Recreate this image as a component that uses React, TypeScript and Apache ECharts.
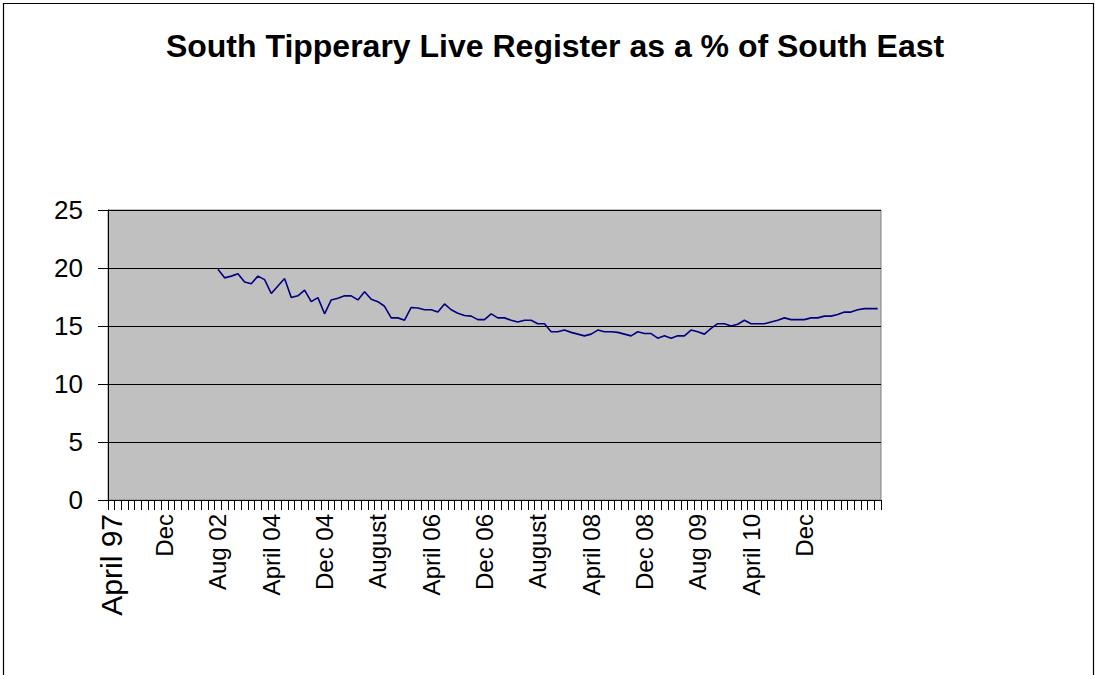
import React, { useEffect, useRef } from "react";
import * as echarts from "echarts";

const tickLabels = [
  "April 97", "Dec", "Aug 02", "April 04", "Dec 04", "August", "April 06",
  "Dec 06", "August", "April 08", "Dec 08", "Aug 09", "April 10", "Dec",
];
const categoryCount = 116;
const labelEvery = 8;
const firstDataIndex = 16;

const liveRegisterPct = [
  19.9, 19.15, 19.3, 19.5, 18.8, 18.65, 19.3, 19.0, 17.8, 18.45,
  19.1, 17.45, 17.6, 18.1, 17.1, 17.45, 16.05, 17.25, 17.4, 17.6,
  17.6, 17.25, 17.95, 17.3, 17.1, 16.7, 15.7, 15.7, 15.5, 16.6,
  16.55, 16.4, 16.4, 16.2, 16.9, 16.4, 16.1, 15.9, 15.85, 15.55,
  15.55, 16.05, 15.7, 15.7, 15.5, 15.35, 15.5, 15.5, 15.2, 15.2,
  14.5, 14.5, 14.65, 14.45, 14.3, 14.15, 14.3, 14.65, 14.5, 14.5,
  14.45, 14.3, 14.15, 14.5, 14.35, 14.35, 13.95, 14.15, 13.95, 14.15,
  14.15, 14.65, 14.5, 14.3, 14.8, 15.2, 15.2, 15.0, 15.15, 15.5,
  15.2, 15.2, 15.2, 15.35, 15.5, 15.7, 15.55, 15.55, 15.55, 15.7,
  15.7, 15.85, 15.85, 16.0, 16.2, 16.2, 16.4, 16.5, 16.5, 16.5,
];

const yTicks = { min: 0, max: 25, interval: 5 };
const titleText = "South Tipperary Live Register as a % of South East";

export default function App() {
  const ref = useRef<HTMLDivElement>(null);
  useEffect(() => {
    if (!ref.current) return;
    const chart = echarts.init(ref.current, null, { renderer: "svg" });
    const categories = Array.from({ length: categoryCount }, (_, i) => String(i));
    const data: (number | null)[] = [];
    for (let i = 0; i < categoryCount; i++) {
      const k = i - firstDataIndex;
      data.push(k >= 0 && k < liveRegisterPct.length ? liveRegisterPct[k] : null);
    }
    const font = "Liberation Sans, Arial, sans-serif";
    chart.setOption({
      animation: false,
      backgroundColor: "#ffffff",
      graphic: [
        {
          type: "rect",
          shape: { x: 3.5, y: 3.5, width: 1090, height: 720 },
          style: { fill: "none", stroke: "#000", lineWidth: 1.2 },
          silent: true,
        },
        {
          type: "text",
          x: 555,
          y: 46,
          style: {
            text: titleText,
            font: `bold 32px ${font}`,
            fill: "#000",
            textAlign: "center",
            textVerticalAlign: "middle",
          },
        },
      ],
      grid: {
        left: 108,
        top: 210,
        right: 216,
        bottom: 175,
        show: true,
        backgroundColor: "#C0C0C0",
        borderColor: "#808080",
        borderWidth: 1,
        containLabel: false,
      },
      xAxis: {
        type: "category",
        data: categories,
        boundaryGap: true,
        axisLine: { show: true, lineStyle: { color: "#000", width: 1 } },
        axisTick: { show: true, interval: 0, length: 10, lineStyle: { color: "#000" } },
        axisLabel: {
          interval: 0,
          rotate: 90,
          margin: 14,
          color: "#000",
          fontSize: 24,
          fontFamily: font,
          formatter: (_v: string, idx: number) => {
            if (idx % labelEvery !== 0) return "";
            const t = tickLabels[idx / labelEvery] ?? "";
            return idx === 0 && t ? `{big|${t}}` : t;
          },
          rich: {
            big: { fontSize: 30, fontFamily: font, color: "#000" },
          },
        },
        splitLine: { show: false },
      },
      yAxis: {
        type: "value",
        min: yTicks.min,
        max: yTicks.max,
        interval: yTicks.interval,
        axisLine: { show: true, lineStyle: { color: "#000", width: 1 } },
        axisTick: { show: true, length: 10, lineStyle: { color: "#000" } },
        axisLabel: { margin: 25, color: "#000", fontSize: 26, fontFamily: font },
        splitLine: { show: true, lineStyle: { color: "#000", width: 1 } },
      },
      series: [
        {
          type: "line",
          data,
          symbol: "none",
          connectNulls: false,
          lineStyle: { color: "#000080", width: 1.6 },
          itemStyle: { color: "#000080" },
        },
      ],
    });
    return () => chart.dispose();
  }, []);
  return (
    <div
      ref={ref}
      style={{ position: "absolute", left: 0, top: 0, width: 1097, height: 675 }}
    />
  );
}
